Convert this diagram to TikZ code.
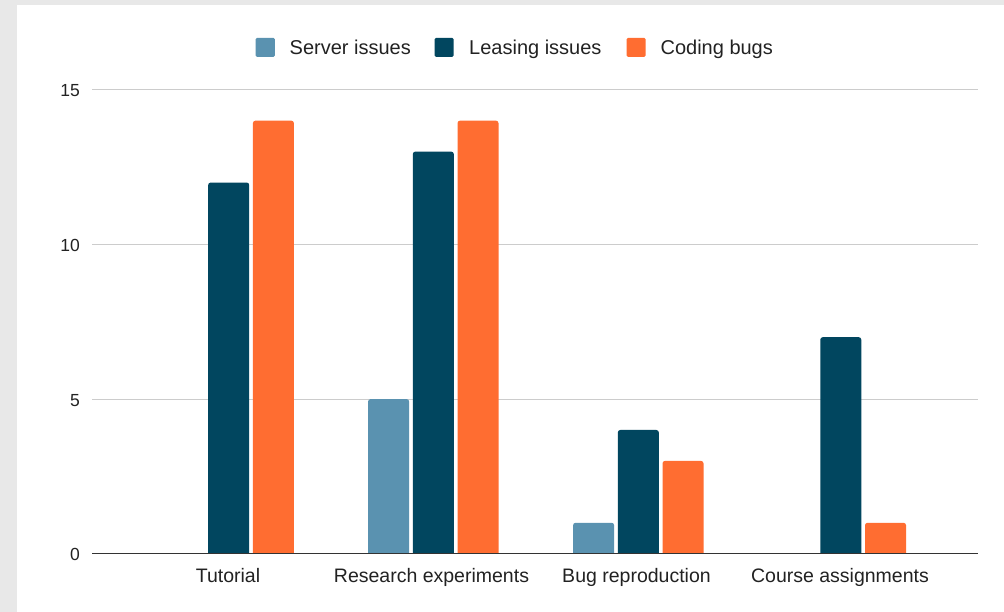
\documentclass[tikz,border=0pt]{standalone}
\usepackage{fontspec}
\setmainfont{Liberation Sans}
\definecolor{servc}{HTML}{5A92B0}
\definecolor{leasc}{HTML}{01465F}
\definecolor{codec}{HTML}{FF6D31}
\definecolor{txtc}{HTML}{222222}
\definecolor{gridc}{HTML}{CCCCCC}
\definecolor{axisc}{HTML}{333333}
\definecolor{bgc}{HTML}{E8E8E8}
\tikzset{
  lbl/.style={font=\fontsize{19.5bp}{22bp}\selectfont, text=txtc, inner sep=0pt},
  leglbl/.style={font=\fontsize{20bp}{22bp}\selectfont, text=txtc, inner sep=0pt, anchor=base west},
  ticklbl/.style={font=\fontsize{17.5bp}{20bp}\selectfont, text=txtc, inner sep=0pt, anchor=base east},
  gridln/.style={draw=gridc, line width=1.1bp},
  axisln/.style={draw=axisc, line width=1.4bp},
  swatch/.style={rounded corners=1.5bp},
}
\newcommand{\mybar}[4]{% x-left, width, value, color
  \fill[#4] (#1,553.7) [rounded corners=2.5bp] -- (#1,{553.7-30.93*#3}) -- ({#1+#2},{553.7-30.93*#3}) [sharp corners] -- ({#1+#2},553.7) -- cycle;}
\begin{document}
\begin{tikzpicture}[x=1bp,y=-1bp]
\useasboundingbox (0,0) rectangle (1004,612);
\fill[bgc] (0,0) rectangle (1004,612);
\fill[white] (17,5) rectangle (1004,612);
% gridlines
\foreach \v in {5,10,15}{
  \draw[gridln] (92,{553.7-30.93*\v}) -- (978,{553.7-30.93*\v});
}
\node[ticklbl] (t0) at (80,560.7) {0};
\node[ticklbl] (t5) at (80,{553.7-30.93*5+7}) {5};
\node[ticklbl] (t10) at (80,{553.7-30.93*10+7}) {10};
\node[ticklbl] (t15) at (80,{553.7-30.93*15+7}) {15};
% bars
\foreach \c/\s/\l/\k in {228.7/0/12/14, 433.3/5/13/14, 638.3/1/4/3, 840.8/0/7/1}{
  \ifdim \s pt>0pt \mybar{\c-20.5-44.7}{41}{\s}{servc}\fi
  \mybar{\c-20.5}{41}{\l}{leasc}
  \mybar{\c-20.5+44.7}{41}{\k}{codec}
}
\draw[axisln] (92,553.7) -- (978,553.7);
% category labels
\node[lbl, anchor=base] (c1) at (228,582.3) {Tutorial};
\node[lbl, anchor=base] (c2) at (431.5,582.3) {Research experiments};
\node[lbl, anchor=base] (c3) at (636.5,582.3) {Bug reproduction};
\node[lbl, anchor=base] (c4) at (840,582.3) {Course assignments};
% legend
\fill[servc, swatch] (255.6,37.8) rectangle (274.8,57);
\node[leglbl] (l1) at (289.5,55) {Server issues};
\fill[leasc, swatch] (434.5,37.8) rectangle (453.7,57);
\node[leglbl] (l2) at (469,55) {Leasing issues};
\fill[codec, swatch] (626.5,37.8) rectangle (645.7,57);
\node[leglbl] (l3) at (660.4,55) {Coding bugs};
\end{tikzpicture}
\end{document}
